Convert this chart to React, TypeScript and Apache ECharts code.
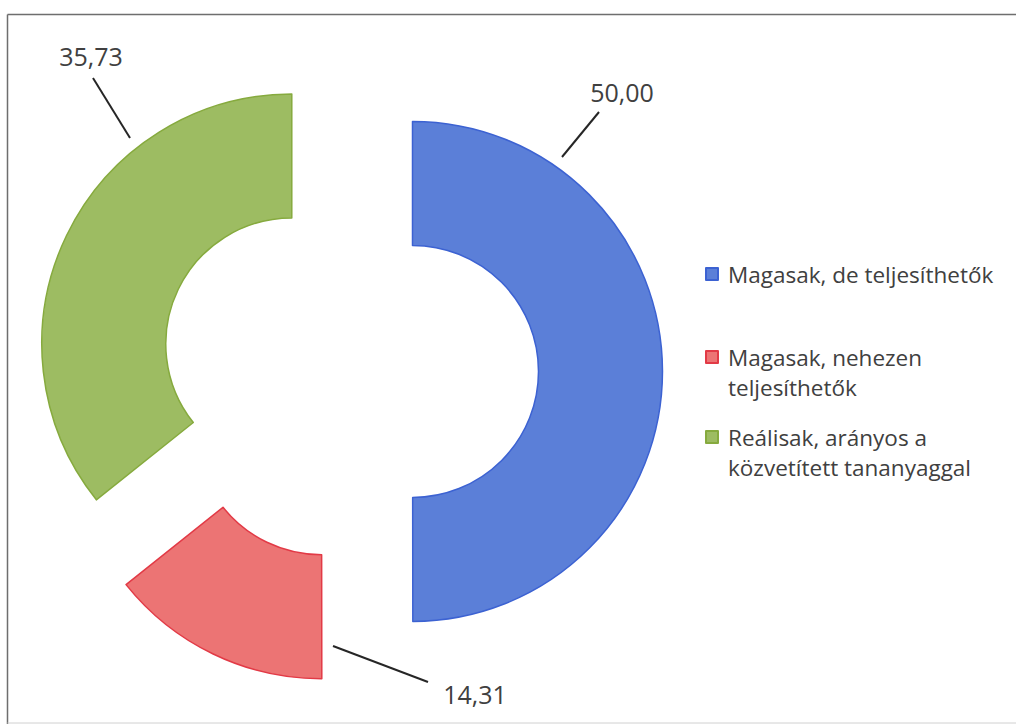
import React, { useEffect, useRef } from "react";
import * as echarts from "echarts";

// ---- data ----
const categories = [
  "Magasak, de teljesíthetők",
  "Magasak, nehezen teljesíthetők",
  "Reálisak, arányos a közvetített tananyaggal",
];
const legendLabels = [
  "Magasak, de teljesíthetők",
  "Magasak, nehezen\nteljesíthetők",
  "Reálisak, arányos a\nközvetített tananyaggal",
];
const values = [50.0, 14.31, 35.73];

// ---- styles / layout ----
const FILLS = ["#5B7FD8", "#EC7474", "#9DBC62"];
const BORDERS = ["#3C62D2", "#E23A46", "#86AA3E"];
const FONT = "'Open Sans', 'Noto Sans', sans-serif";
const TEXT_COLOR = "#404040";
const BASE_CENTER = [349, 371.5];
const EXPLODE = 63.5;
const RADIUS = [126, 250];
// label positions (center of text) and leader-line endpoints
const LABEL_POS = [
  { x: 622, y: 92, line: [[562, 157], [599, 112]] },
  { x: 475, y: 694, line: [[333, 646], [428, 682]] },
  { x: 91, y: 56, line: [[130, 138], [93, 78]] },
];
const LEGEND_TOP = [258, 342, 422];

const fmt = (v: number) => v.toFixed(2).replace(".", ",");

export default function App() {
  const ref = useRef<HTMLDivElement>(null);
  useEffect(() => {
    if (!ref.current) return;
    const chart = echarts.init(ref.current, null, { renderer: "svg" });
    const total = values.reduce((a, b) => a + b, 0);
    let cum = 0;
    const series: any[] = values.map((v, i) => {
      const startDeg = (360 * cum) / total;
      const midDeg = (360 * (cum + v / 2)) / total;
      cum += v;
      const rad = (midDeg * Math.PI) / 180;
      const center = [
        BASE_CENTER[0] + EXPLODE * Math.sin(rad),
        BASE_CENTER[1] - EXPLODE * Math.cos(rad),
      ];
      const lp = LABEL_POS[i];
      return {
        type: "pie",
        center,
        radius: RADIUS,
        startAngle: 90 - startDeg,
        clockwise: true,
        avoidLabelOverlap: false,
        emphasis: { disabled: true },
        data: [
          {
            name: categories[i],
            value: v,
            itemStyle: { color: FILLS[i], borderColor: BORDERS[i], borderWidth: 1.5 },
            label: {
              show: true,
              position: "outside",
              formatter: (p: any) => fmt(p.value),
              fontFamily: FONT,
              fontSize: 25,
              color: TEXT_COLOR,
            },
            labelLine: {
              show: true,
              length: 20,
              length2: 0,
              smooth: false,
              lineStyle: { color: "#262626", width: 2 },
            },
          },
          {
            name: "__rest" + i,
            value: total - v,
            itemStyle: { color: "rgba(0,0,0,0)", borderWidth: 0 },
            label: { show: false },
            labelLine: { show: false },
          },
        ],
        labelLayout: (params: any) => {
          if (params.dataIndex !== 0) return {};
          return {
            x: lp.x,
            y: lp.y,
            align: "center",
            verticalAlign: "middle",
            labelLinePoints: [lp.line[0], lp.line[0], lp.line[1]],
          };
        },
      };
    });

    const legend = categories.map((name, i) => ({
      data: [name],
      orient: "vertical",
      left: 705,
      top: LEGEND_TOP[i],
      padding: 0,
      itemGap: 0,
      selectedMode: false,
      itemWidth: 17,
      itemHeight: i === 0 ? 30 : 42,
      icon:
        i === 0
          ? "path://M0,9h12v12h-12ZM0,0ZM17,30Z"
          : "path://M0,0h12v12h-12ZM17,42Z",
      formatter: () => legendLabels[i],
      textStyle: {
        fontFamily: FONT,
        fontSize: 22.5,
        color: TEXT_COLOR,
        lineHeight: 30,
      },
    }));

    chart.setOption({
      animation: false,
      backgroundColor: "#ffffff",
      legend,
      graphic: [
        {
          type: "line",
          z: -10,
          silent: true,
          shape: { x1: 7.5, y1: 14.5, x2: 1016, y2: 14.5 },
          style: { stroke: "#6e6e6e", lineWidth: 1.5 },
        },
        {
          type: "line",
          z: -10,
          silent: true,
          shape: { x1: 7.5, y1: 14.5, x2: 7.5, y2: 724 },
          style: { stroke: "#6e6e6e", lineWidth: 1.5 },
        },
        {
          type: "line",
          z: -10,
          silent: true,
          shape: { x1: 7.5, y1: 723, x2: 1016, y2: 723 },
          style: { stroke: "#d0d0d0", lineWidth: 1 },
        },
      ],
      series,
    });
    return () => chart.dispose();
  }, []);
  return (
    <div
      ref={ref}
      style={{ position: "absolute", left: 0, top: 0, width: 1016, height: 724, background: "#fff" }}
    />
  );
}
